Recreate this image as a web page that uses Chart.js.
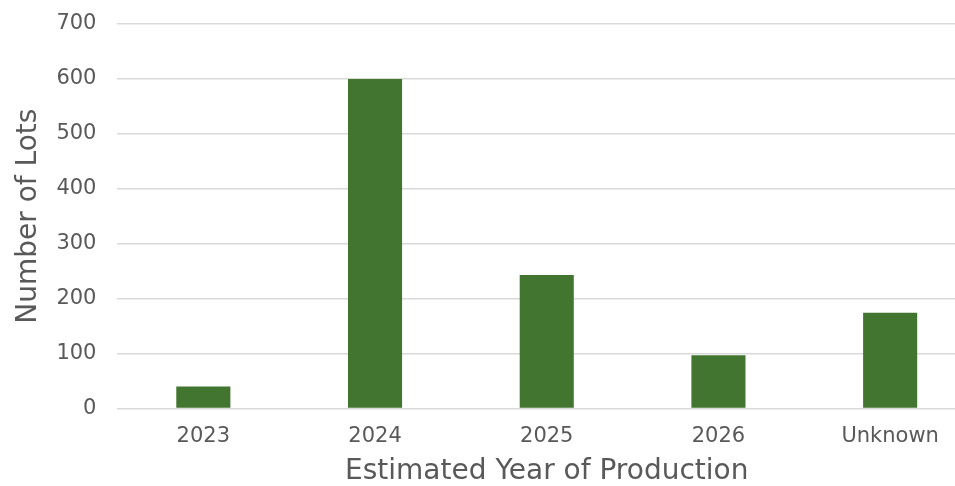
<!DOCTYPE html>
<html><head><meta charset="utf-8">
<script src="https://cdn.jsdelivr.net/npm/chart.js@4/dist/chart.umd.min.js"></script>
<style>html,body{margin:0;padding:0;overflow:hidden;background:#fff;width:955px;height:486px}#wrap{width:976px;height:486px;position:relative}</style>
</head><body><div id="wrap"><canvas id="c"></canvas></div>
<script>
const categories = ["2023", "2024", "2025", "2026", "Unknown"];
const lots = [40, 600, 243, 97, 174];
const yTicks = [0, 100, 200, 300, 400, 500, 600, 700];
const xTitle = "Estimated Year of Production";
const yTitle = "Number of Lots";

const grey = "#595959";
const fontFam = "'DejaVu Sans', sans-serif";
new Chart(document.getElementById("c"), {
  type: "bar",
  data: { labels: categories, datasets: [{ data: lots, backgroundColor: "#42752f", categoryPercentage: 1, barPercentage: 0.315 }] },
  options: {
    responsive: true, maintainAspectRatio: false, animation: false,
    layout: { padding: { top: 24, right: 0, bottom: 0, left: 14 } },
    plugins: { legend: { display: false }, tooltip: { enabled: false } },
    scales: {
      x: {
        grid: { display: false, drawTicks: false }, border: { display: false },
        ticks: { color: grey, font: { family: fontFam, size: 21 }, padding: 16 },
        title: { display: true, text: xTitle, color: grey, font: { family: fontFam, size: 28, lineHeight: 1.05 }, padding: { top: -9, bottom: 0 } }
      },
      y: {
        min: 0, max: 700,
        afterBuildTicks: (s) => { s.ticks = yTicks.map(v => ({ value: v })); },
        grid: { color: "#d9d9d9", lineWidth: 1.5, drawTicks: true, tickLength: 21, tickColor: "rgba(0,0,0,0)" }, border: { display: false },
        ticks: { color: grey, font: { family: fontFam, size: 21 }, padding: 0 },
        title: { display: true, text: yTitle, color: grey, font: { family: fontFam, size: 28, lineHeight: 1.05 }, padding: { top: 0, bottom: 13 } }
      }
    }
  }
});
</script></body></html>
